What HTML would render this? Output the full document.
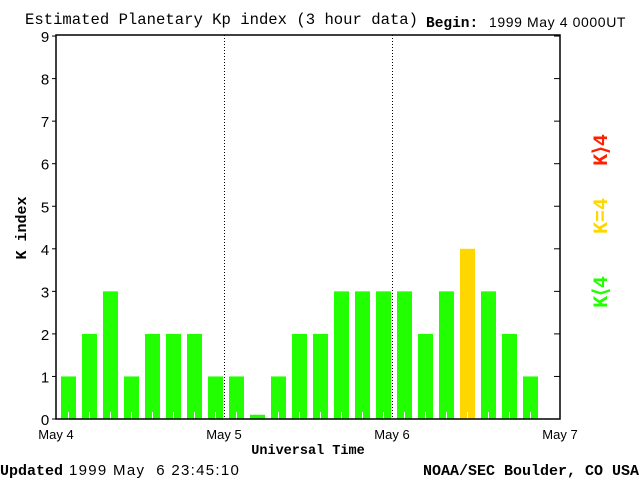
<!DOCTYPE html>
<html><head><meta charset="utf-8"><style>
body{margin:0;background:#fff;width:640px;height:480px;overflow:hidden}
svg text{font-family:"Liberation Sans",sans-serif;white-space:pre}
.mono{font-family:"Liberation Mono",monospace}
.monob{font-family:"Liberation Mono",monospace;font-weight:bold}
</style></head><body>
<svg id="chart" width="640" height="480" xmlns="http://www.w3.org/2000/svg">
<text class="mono" x="25" y="24" font-size="15.6">Estimated Planetary Kp index (3 hour data)</text>
<text class="monob" x="426" y="27" font-size="14.5">Begin:</text>
<text x="489" y="27" font-size="14" letter-spacing="0.6">1999 May 4 0000UT</text>
<g id="plot"></g>
<text class="monob" x="0" y="0" font-size="15" transform="translate(26,228) rotate(-90)" text-anchor="middle">K index</text>
<text class="monob" x="308" y="454" font-size="13.5" text-anchor="middle">Universal Time</text>
<text class="monob" x="0" y="475" font-size="15">Updated</text>
<text x="69" y="475" font-size="15" letter-spacing="1.3">1999 May  6 23:45:10</text>
<text class="monob" x="639" y="475" font-size="15" text-anchor="end">NOAA/SEC Boulder, CO USA</text>
<text class="monob" font-size="20" fill="#ff2000" text-anchor="middle" transform="translate(607,150) rotate(-90)">K⟩4</text>
<text class="monob" font-size="20" fill="#ffd700" text-anchor="middle" transform="translate(607,216) rotate(-90)">K=4</text>
<text class="monob" font-size="20" fill="#22ff00" text-anchor="middle" transform="translate(607,292) rotate(-90)">K⟨4</text>
</svg>
<script>
const kpValues = [1,2,3,1,2,2,2,1, 1,0.1,1,2,2,3,3,3, 3,2,3,4,3,2,1];
const yTicks = [0,1,2,3,4,5,6,7,8,9];
const dayLabels = ["May 4","May 5","May 6","May 7"];
const NS="http://www.w3.org/2000/svg";
const X0=56,X1=560,Y0=419,YT=35,slots=24;
const xs=i=>X0+(X1-X0)*i/slots;
const ys=v=>Y0-v*42.55;
const g=document.getElementById('plot');
function mk(t,a){const e=document.createElementNS(NS,t);for(const k in a)e.setAttribute(k,a[k]);g.appendChild(e);return e;}
kpValues.forEach((v,i)=>{
 const col=v>4?'#ff2000':(v>=4?'#ffd700':'#22ff00');
 const b=mk('rect',{x:xs(i)+5,y:ys(v),width:15,height:Y0-ys(v),fill:col});
 
 
 if(v>0.5){const t=mk('line',{x1:xs(i)+12.5,x2:xs(i)+12.5,y1:Y0-7,y2:Y0,stroke:'#fff','stroke-width':1});
 
 }
});
dayLabels.forEach((d,i)=>{
 const x=X0+(X1-X0)*i/3;
 if(i>0&&i<3){const l=mk('line',{x1:x+0.5,x2:x+0.5,y1:YT,y2:Y0,stroke:'#000','stroke-dasharray':'1,2'});
 
 }
 const t=mk('text',{x:x,y:439,'font-size':13,'text-anchor':'middle'});t.textContent=d;
 
 
});
yTicks.forEach(v=>{
 const y=ys(v);
 const t=mk('text',{x:45,y:y+6,'font-size':15,'text-anchor':'middle'});t.textContent=v;
 
 
 const l=mk('line',{x1:X0-4,x2:X0,y1:y,y2:y,stroke:'#000'});
 
 
 const r=mk('line',{x1:X1-6,x2:X1,y1:y,y2:y,stroke:'#000'});
 
 
});
const f=mk('rect',{x:X0,y:YT,width:X1-X0,height:Y0-YT,fill:'none',stroke:'#000','stroke-width':1.5});


</script>
</body></html>
